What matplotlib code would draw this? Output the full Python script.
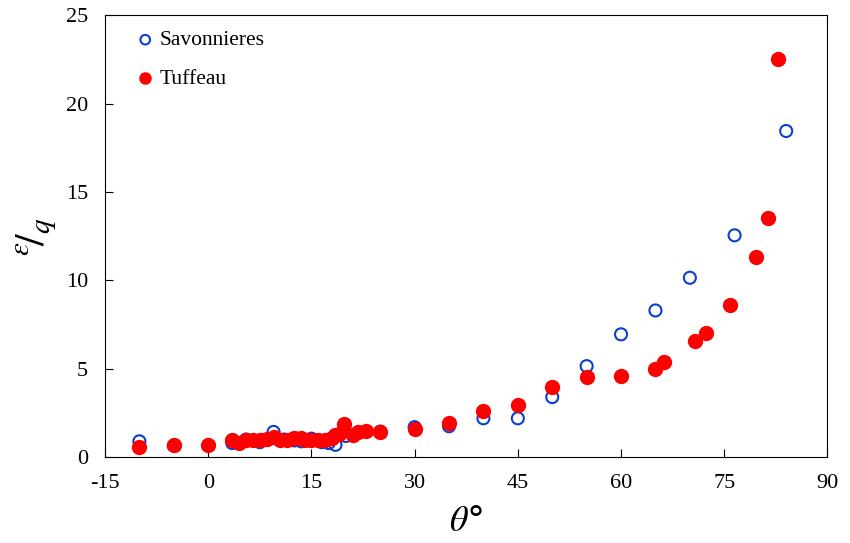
import numpy as np
import matplotlib.pyplot as plt

plt.rcParams['font.family'] = ['Liberation Serif', 'DejaVu Serif']
plt.rcParams['mathtext.fontset'] = 'stix'
plt.rcParams['axes.unicode_minus'] = False

# Savonnieres (open blue circles)
sav_theta = [-10, -5, 3.5, 5.5, 7.5, 9.5, 11, 12.5, 13.5, 15, 16.5, 17.5, 18.5,
             20, 25, 30, 35, 40, 45, 50, 55, 60, 65, 70, 76.5, 84]
sav_eps = [0.9, 0.65, 0.8, 1.0, 0.85, 1.43, 1.0, 0.95, 0.9, 1.05, 0.85, 0.8, 0.7,
           1.2, 1.45, 1.7, 1.75, 2.2, 2.2, 3.4, 5.15, 6.95, 8.3, 10.15, 12.55, 18.45]

# Tuffeau (filled red circles)
tuf_theta = [-10, -5, 0, 3.5, 4.5, 5.5, 6.5, 7.5, 8.5, 9.5, 10.5, 11.5, 12.5, 13.5,
             14, 15, 16, 17, 18, 18.5, 19, 19.8, 21, 21.8, 22.9, 25, 30, 35, 40,
             45, 50, 55, 60, 65, 66.3, 70.8, 72.4, 75.8, 79.6, 81.3, 82.8]
tuf_eps = [0.6, 0.7, 0.7, 1.0, 0.8, 0.95, 1.0, 1.0, 1.05, 1.15, 1.0, 1.0, 1.1, 1.1,
           0.95, 0.95, 1.0, 0.95, 1.1, 1.25, 1.3, 1.85, 1.25, 1.4, 1.5, 1.45, 1.6,
           1.95, 2.6, 2.95, 3.95, 4.55, 4.6, 5.0, 5.4, 6.6, 7.05, 8.6, 11.3, 13.55, 22.5]

fig = plt.figure(figsize=(8.5, 5.43), dpi=100)
ax = fig.add_axes([0.1235, 0.158, 0.85, 0.814])

ax.scatter(sav_theta, sav_eps, s=75, facecolors='none', edgecolors='#0a3fcf',
           linewidths=1.5, label='Savonnieres', zorder=2)
ax.scatter(tuf_theta, tuf_eps, s=100, color='#ff0000', label='Tuffeau', zorder=3)

ax.set_xlim(-15, 90)
ax.set_ylim(0, 25)
ax.set_xticks(np.arange(-15, 91, 15))
ax.set_yticks(np.arange(0, 26, 5))
ax.tick_params(direction='in', labelsize=16, length=6, pad=12)

ax.set_xlabel(r'$\theta$' + '\u00b0', fontsize=26, labelpad=8,
              fontfamily=['DejaVu Sans'])
ax.set_ylabel(r'$^{\varepsilon}\!/_{q}$', fontsize=30, labelpad=6)

ax.legend(loc='upper left', bbox_to_anchor=(0.017, 1.0), frameon=False,
          fontsize=15.5, handletextpad=0.05, handlelength=1.2, markerscale=0.8,
          borderaxespad=0.3, labelspacing=0.85)

fig.savefig('out.png', dpi=100)
